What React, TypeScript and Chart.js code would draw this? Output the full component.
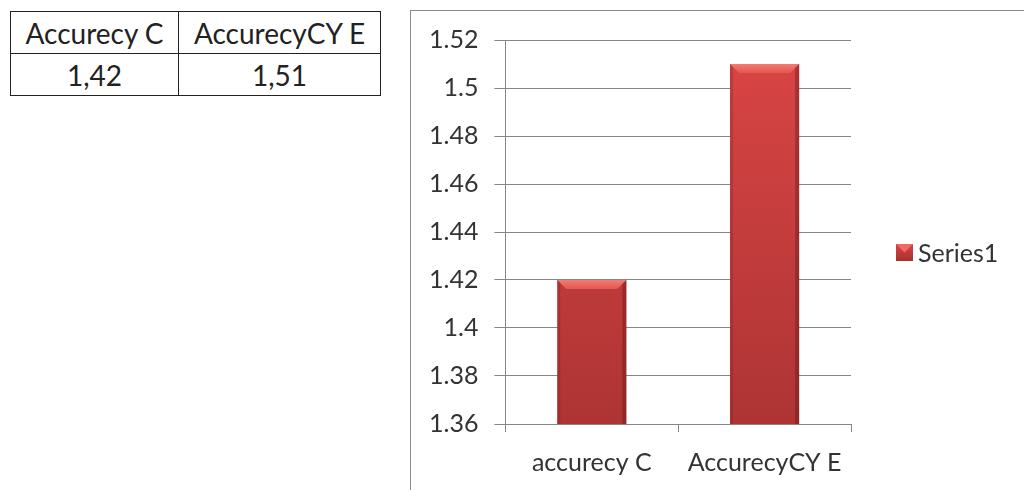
import React, { useEffect, useRef } from "react";
import { Chart, registerables } from "chart.js";

Chart.register(...registerables);

const tableHeaders = ["Accurecy C", "AccurecyCY E"];
const tableValues = ["1,42", "1,51"];
const categories = ["accurecy C", "AccurecyCY E"];
const seriesName = "Series1";
const seriesValues = [1.42, 1.51];
const yMin = 1.36;
const yMax = 1.52;
const yStep = 0.02;

const FONT = "Lato, 'Open Sans', sans-serif";

const bevelPlugin = {
  id: "bevel",
  afterDatasetsDraw(chart: any) {
    const ctx = chart.ctx;
    const meta = chart.getDatasetMeta(0);
    const bottom = chart.chartArea.bottom;
    meta.data.forEach((bar: any) => {
      const { x, y, width } = bar.getProps(["x", "y", "width"], true);
      const l = x - width / 2;
      const r = x + width / 2;
      const b = 9;
      ctx.save();
      ctx.beginPath();
      ctx.moveTo(l, y);
      ctx.lineTo(r, y);
      ctx.lineTo(r - b, y + b);
      ctx.lineTo(l + b, y + b);
      ctx.closePath();
      const g = ctx.createLinearGradient(0, y, 0, y + b);
      g.addColorStop(0, "#f27c74");
      g.addColorStop(1, "#e4574f");
      ctx.fillStyle = g;
      ctx.fill();
      ctx.beginPath();
      ctx.moveTo(r, y);
      ctx.lineTo(r, bottom);
      ctx.lineTo(r - 4, bottom);
      ctx.lineTo(r - 4, y + 4);
      ctx.closePath();
      ctx.fillStyle = "rgba(90,15,15,0.35)";
      ctx.fill();
      ctx.beginPath();
      ctx.moveTo(l, y);
      ctx.lineTo(l, bottom);
      ctx.lineTo(l + 3, bottom);
      ctx.lineTo(l + 3, y + 3);
      ctx.closePath();
      ctx.fillStyle = "rgba(120,20,20,0.22)";
      ctx.fill();
      ctx.restore();
    });
  },
};

const sideLegendPlugin = {
  id: "sideLegend",
  afterDraw(chart: any) {
    const ctx = chart.ctx;
    const ds = chart.data.datasets[0];
    const size = 17;
    const x = chart.chartArea.right + 45;
    const cy = chart.height / 2;
    const y = cy - size / 2;
    ctx.save();
    const g = ctx.createLinearGradient(0, y, 0, y + size);
    g.addColorStop(0, "#d84444");
    g.addColorStop(1, "#a83131");
    ctx.fillStyle = g;
    ctx.fillRect(x, y, size, size);
    ctx.beginPath();
    ctx.moveTo(x, y);
    ctx.lineTo(x + size, y);
    ctx.lineTo(x + size / 2, y + size / 2);
    ctx.closePath();
    ctx.fillStyle = "#ec6b64";
    ctx.fill();
    ctx.fillStyle = "#333";
    ctx.font = `25px ${FONT}`;
    ctx.textBaseline = "middle";
    ctx.textAlign = "left";
    ctx.fillText(ds.label, x + size + 5, cy + 1);
    ctx.restore();
  },
};

function ChartBox() {
  const ref = useRef<HTMLCanvasElement | null>(null);
  useEffect(() => {
    if (!ref.current) return;
    const chart = new Chart(ref.current, {
      type: "bar",
      data: {
        labels: categories,
        datasets: [
          {
            label: seriesName,
            data: seriesValues,
            backgroundColor: (c: any) => {
              const ch = c.chart;
              const area = ch.chartArea;
              if (!area) return "#c83c3c";
              const g = ch.ctx.createLinearGradient(0, area.top, 0, area.bottom);
              g.addColorStop(0, "#da4545");
              g.addColorStop(1, "#ae3434");
              return g;
            },
            borderWidth: 0,
            categoryPercentage: 1,
            barPercentage: 0.4,
          },
        ],
      },
      options: {
        responsive: false,
        animation: false,
        layout: { padding: { left: 2, top: 29, right: 173, bottom: 0 } },
        plugins: {
          tooltip: { enabled: false },
          legend: { display: false },
        },
        scales: {
          x: {
            grid: {
              offset: true,
              drawOnChartArea: false,
              drawTicks: true,
              tickLength: 8,
              color: "#868686",
            },
            border: { color: "#868686" },
            ticks: { color: "#333", padding: 16, font: { family: FONT, size: 25 } },
          },
          y: {
            min: yMin,
            max: yMax,
            grid: { color: "#868686", tickLength: 11 },
            border: { color: "#868686" },
            ticks: {
              stepSize: yStep,
              color: "#333",
              padding: 16,
              font: { family: FONT, size: 25, lineHeight: 1 },
              callback: (v: any) => String(Number(Number(v).toFixed(2))),
            },
          },
        },
      },
      plugins: [bevelPlugin, sideLegendPlugin],
    });
    return () => chart.destroy();
  }, []);
  return (
    <div
      style={{
        position: "absolute",
        left: 410,
        top: 10,
        width: 613,
        height: 479,
        overflow: "hidden",
        borderLeft: "1px solid #8c8c8c",
        borderTop: "1px solid #8c8c8c",
        background: "#fff",
      }}
    >
      <canvas ref={ref} width={613} height={483} style={{ display: "block" }} />
    </div>
  );
}

export default function App() {
  const cell: React.CSSProperties = {
    border: "1px solid #222",
    textAlign: "center",
    fontFamily: FONT,
    fontSize: 28,
    color: "#222",
    height: 41,
    padding: 0,
    lineHeight: "40px",
  };
  return (
    <div>
      <table
        style={{
          position: "absolute",
          left: 10,
          top: 11,
          borderCollapse: "collapse",
        }}
      >
        <tbody>
          <tr>
            {tableHeaders.map((h, i) => (
              <td key={i} style={{ ...cell, width: i === 0 ? 167 : 201 }}>
                {h}
              </td>
            ))}
          </tr>
          <tr>
            {tableValues.map((v, i) => (
              <td key={i} style={cell}>
                {v}
              </td>
            ))}
          </tr>
        </tbody>
      </table>
      <ChartBox />
    </div>
  );
}
